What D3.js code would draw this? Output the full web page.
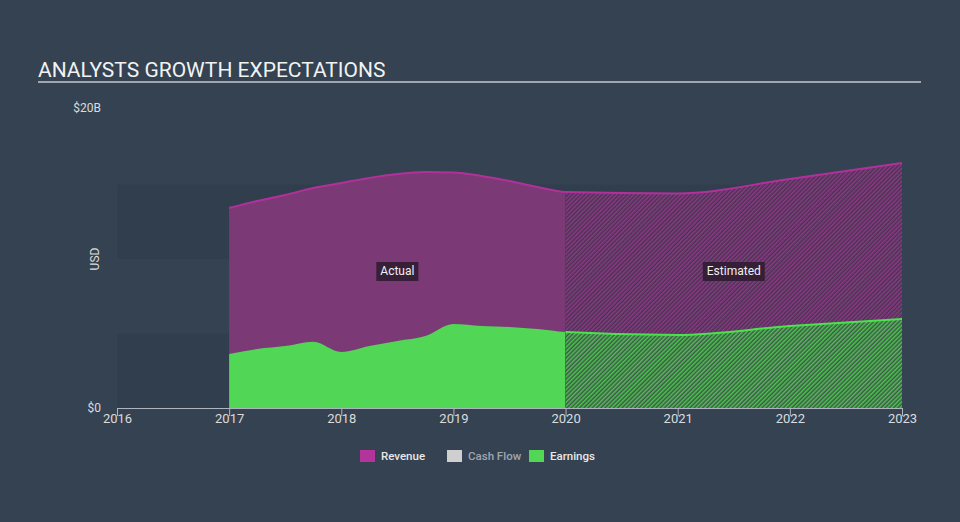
<!DOCTYPE html>
<html><head><meta charset="utf-8">
<script src="https://cdn.jsdelivr.net/npm/d3@7"></script>
<style>
html,body{margin:0;padding:0;background:#344252;}
svg{display:block;font-family:Roboto,"Noto Sans",sans-serif;}
</style></head>
<body><svg id="c" width="960" height="522"></svg>
<script>
// ---- data ----
const actualDates = [2017.0,2017.25,2017.5,2017.75,2018.0,2018.25,2018.5,2018.75,2019.0,2019.25,2019.5,2019.75,2020.0];
const actualRevenue = [13.42,13.89,14.30,14.77,15.10,15.44,15.70,15.84,15.81,15.57,15.23,14.83,14.50];
const actualEarnings = [3.62,3.96,4.16,4.45,3.76,4.16,4.50,4.83,5.64,5.50,5.44,5.30,5.10];
const estimateDates = [2021.0,2022.0,2023.0];
const estimateRevenue = [14.40,15.37,16.44];
const estimateEarnings = [4.90,5.50,5.97];
const xTicks = [2016,2017,2018,2019,2020,2021,2022,2023];
const yTickLabels = [{v:0,t:"$0"},{v:20,t:"$20B"}];
const legendItems = [{name:"Revenue",color:"#b3359c",text:"#e8e8e8"},{name:"Cash Flow",color:"#cfcfcf",text:"#a0a6ae"},{name:"Earnings",color:"#52d655",text:"#e8e8e8"}];
const splitYear = 2020;

const svg = d3.select("#c");
const x = d3.scaleLinear().domain([2016,2023]).range([117,902]);
const y = d3.scaleLinear().domain([0,20]).range([408,110]);

// title
svg.append("text").attr("x",38).attr("y",77).attr("fill","#f2f2f2").attr("font-size",21).text("ANALYSTS GROWTH EXPECTATIONS");
svg.append("line").attr("x1",38).attr("x2",921).attr("y1",82).attr("y2",82).attr("stroke","#c4c8ce").attr("stroke-width",1.5);

// bands
[[0,5],[10,15]].forEach(b=>{
  svg.append("rect").attr("x",x(2016)).attr("width",x(2023)-x(2016))
    .attr("y",y(b[1])).attr("height",y(b[0])-y(b[1])).attr("fill","#313e4d");
});

const defs = svg.append("defs");
function hatch(id,color){
  const p = defs.append("pattern").attr("id",id).attr("patternUnits","userSpaceOnUse")
    .attr("width",3).attr("height",3).attr("patternTransform","rotate(45)");
  p.append("line").attr("x1",0.75).attr("x2",0.75).attr("y1",0).attr("y2",3).attr("stroke",color).attr("stroke-width",1.4);
}
hatch("hRev","#8e3a86");
hatch("hEarn","#52c955");
defs.append("clipPath").attr("id","clipA").append("rect").attr("x",0).attr("y",0).attr("width",x(splitYear)).attr("height",522);
defs.append("clipPath").attr("id","clipE").append("rect").attr("x",x(splitYear)).attr("y",0).attr("width",960).attr("height",522);

const dates = actualDates.concat(estimateDates);
const rev = dates.map((d,i)=>({d, v: i<actualDates.length? actualRevenue[i] : estimateRevenue[i-actualDates.length]}));
const earn = dates.map((d,i)=>({d, v: i<actualDates.length? actualEarnings[i] : estimateEarnings[i-actualDates.length]}));

const area = d3.area().x(p=>x(p.d)).y0(y(0)).y1(p=>y(p.v)).curve(d3.curveMonotoneX);
const line = d3.line().x(p=>x(p.d)).y(p=>y(p.v)).curve(d3.curveMonotoneX);

// actual solid
svg.append("path").attr("d",area(rev)).attr("fill","#7b3a75").attr("clip-path","url(#clipA)");
svg.append("path").attr("d",area(earn)).attr("fill","#52d655").attr("clip-path","url(#clipA)");
// estimated hatched
svg.append("path").attr("d",area(rev)).attr("fill","#4a3352").attr("clip-path","url(#clipE)");
svg.append("path").attr("d",area(rev)).attr("fill","url(#hRev)").attr("clip-path","url(#clipE)");
svg.append("path").attr("d",area(earn)).attr("fill","#3d5747").attr("clip-path","url(#clipE)");
svg.append("path").attr("d",area(earn)).attr("fill","url(#hEarn)").attr("clip-path","url(#clipE)");
// lines
svg.append("path").attr("d",line(rev)).attr("fill","none").attr("stroke","#b3309c").attr("stroke-width",2);
svg.append("path").attr("d",line(earn)).attr("fill","none").attr("stroke","#4be24e").attr("stroke-width",2).attr("clip-path","url(#clipE)");

// labels Actual / Estimated
function tag(cx,cy,t){
  const g = svg.append("g");
  const txt = g.append("text").attr("x",cx).attr("y",cy+4).attr("text-anchor","middle").attr("fill","#f0f0f0").attr("font-size",12).text(t);
  const bb = txt.node().getBBox();
  g.insert("rect","text").attr("x",bb.x-4).attr("y",cy-9).attr("width",bb.width+8).attr("height",19).attr("fill","#2b1b2e").attr("fill-opacity",0.85);
}
tag(x(2018.5),271,"Actual");
tag(x(2021.5),271,"Estimated");

// x axis
const xa = svg.append("g").attr("transform",`translate(0,${y(0)})`)
  .call(d3.axisBottom(x).tickValues(xTicks).tickFormat(d3.format("d")).tickSize(8).tickSizeOuter(0));
xa.select(".domain").attr("stroke","#aeb5bf");
xa.selectAll(".tick line").attr("stroke","#aeb5bf");
xa.selectAll(".tick text").attr("fill","#dcdcdc").attr("font-size",13).attr("font-family","Roboto,sans-serif").attr("dy","0.55em").attr("y",8);

// y labels
yTickLabels.forEach(t=>{
  svg.append("text").attr("x",101).attr("y",y(t.v)+(t.v===0?4:2)).attr("text-anchor","end").attr("fill","#dcdcdc").attr("font-size",12).text(t.t);
});
svg.append("text").attr("transform",`translate(99,${y(10)}) rotate(-90)`).attr("text-anchor","middle").attr("fill","#dcdcdc").attr("font-size",12).text("USD");

// legend
const lg = svg.append("g");
const lx = [360,447,529];
legendItems.forEach((it,i)=>{
  lg.append("rect").attr("x",lx[i]).attr("y",450).attr("width",15).attr("height",12).attr("fill",it.color);
  lg.append("text").attr("x",lx[i]+21).attr("y",460).attr("fill",it.text).attr("font-size",11.5).attr("font-weight",500).text(it.name);
});
</script></body></html>
